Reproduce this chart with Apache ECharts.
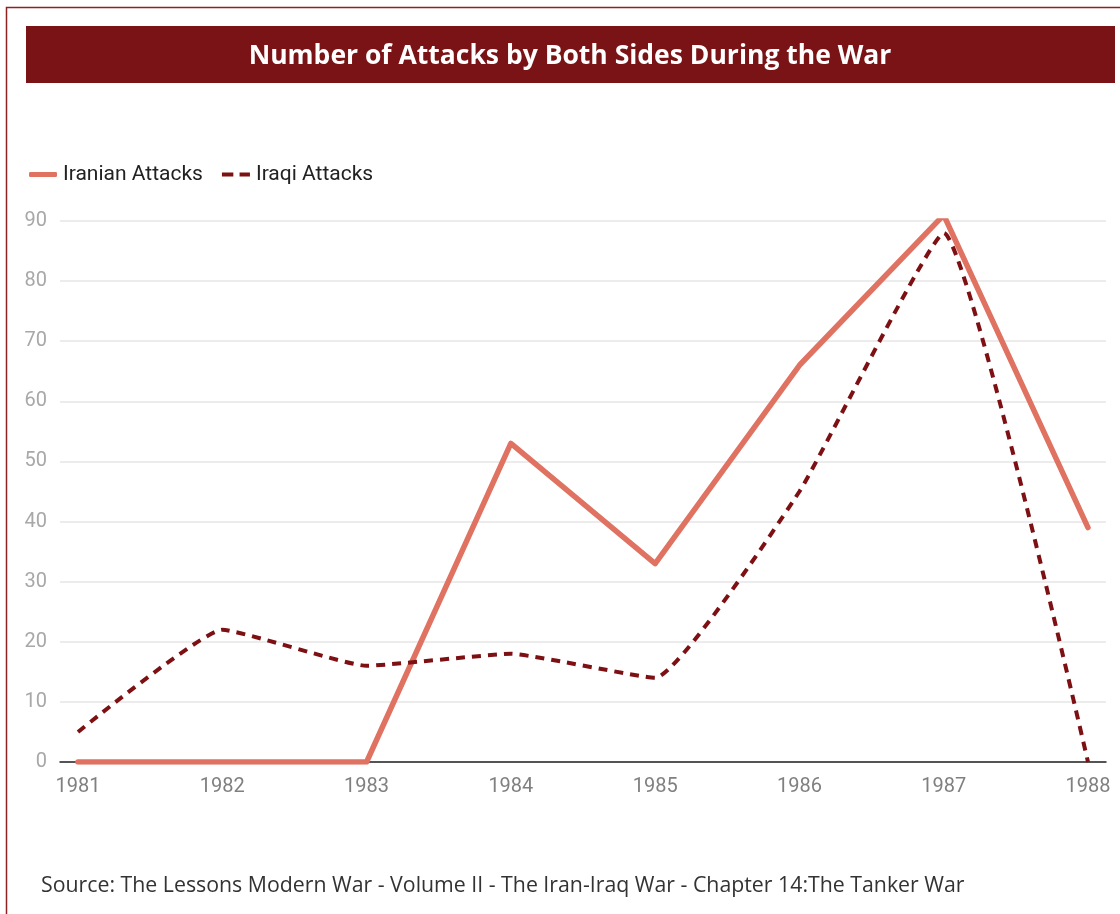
<!DOCTYPE html>
<html><head><meta charset="utf-8">
<script src="https://cdn.jsdelivr.net/npm/echarts@6/dist/echarts.min.js"></script>
<style>html,body{margin:0;padding:0;background:#fff}#c{width:1120px;height:914px}</style>
</head><body><div id="c"></div>
<script>
var years = ['1981','1982','1983','1984','1985','1986','1987','1988'];
var iranianAttacks = [0, 0, 0, 53, 33, 66, 91, 39];
var iraqiAttacks = [5, 22, 16, 18, 14, 45, 88, 0];
var yTicks = [0, 10, 20, 30, 40, 50, 60, 70, 80, 90];
var titleText = 'Number of Attacks by Both Sides During the War';
var sourceText = 'Source: The Lessons Modern War - Volume II - The Iran-Iraq War - Chapter 14:The Tanker War';

var chart = echarts.init(document.getElementById('c'));
var yMax = yTicks[yTicks.length - 1];
chart.setOption({
  animation: false,
  backgroundColor: '#fff',
  textStyle: { fontFamily: 'Roboto' },
  legend: {
    left: 24, top: 159, itemWidth: 28, itemHeight: 5, itemGap: 19,
    textStyle: { fontSize: 21, color: '#222', fontFamily: 'Roboto', padding: [0, 0, 0, 1] },
    data: [
      { name: 'Iranian Attacks', icon: 'roundRect', itemStyle: { color: '#e07262' } },
      { name: 'Iraqi Attacks', icon: 'path://M0,0h11v4h-11z M17,0h10v4h-10z', itemStyle: { color: '#7d1013' } }
    ]
  },
  grid: [
    { left: 78, right: 32, top: 221, bottom: 152 },
    { left: 60, right: 14, top: 221, bottom: 152 }
  ],
  xAxis: [
    { type: 'category', gridIndex: 0, data: years, boundaryGap: false,
      axisLine: { show: false }, axisTick: { show: false }, splitLine: { show: false },
      axisLabel: { fontSize: 20, color: '#808080', margin: 15, fontFamily: 'Roboto' } },
    { type: 'value', gridIndex: 1, min: 0, max: 1,
      axisLine: { show: true, onZero: false, lineStyle: { color: '#222', width: 1.5 } },
      axisTick: { show: false }, axisLabel: { show: false }, splitLine: { show: false } }
  ],
  yAxis: [
    { type: 'value', gridIndex: 0, min: 0, max: yMax, interval: 10,
      axisLine: { show: false }, axisTick: { show: false }, axisLabel: { show: false },
      splitLine: { show: false } },
    { type: 'value', gridIndex: 1, min: 0, max: yMax, interval: 10,
      axisLine: { show: false }, axisTick: { show: false },
      axisLabel: { fontSize: 20, color: '#a8a8a8', margin: 13, fontFamily: 'Roboto' },
      splitLine: { show: true, lineStyle: { color: '#e6e6e6', width: 1.5 } } }
  ],
  series: [
    { name: 'Iranian Attacks', type: 'line', xAxisIndex: 0, yAxisIndex: 0,
      data: iranianAttacks, symbol: 'none', z: 3,
      lineStyle: { color: '#e07262', width: 5.5, cap: 'round', join: 'round' },
      itemStyle: { color: '#e07262' } },
    { name: 'Iraqi Attacks', type: 'line', xAxisIndex: 0, yAxisIndex: 0,
      data: iraqiAttacks, symbol: 'none', smooth: 0.12, z: 4,
      lineStyle: { color: '#7d1013', width: 4, type: [9, 7] },
      itemStyle: { color: '#7d1013' } }
  ],
  graphic: [
    { type: 'rect', z: 0, silent: true,
      shape: { x: 6.5, y: 7.5, width: 1300, height: 1300 },
      style: { fill: 'none', stroke: '#8e2222', lineWidth: 1.5 } },
    { type: 'rect', z: 1, silent: true,
      shape: { x: 26, y: 26, width: 1089, height: 57 },
      style: { fill: '#7a1315' } },
    { type: 'text', z: 2, silent: true, x: 570, y: 56,
      style: { text: titleText, fill: '#fff', font: 'bold 26.5px "Open Sans"', align: 'center', verticalAlign: 'middle' } },
    { type: 'text', z: 2, silent: true, x: 41, y: 886,
      style: { text: sourceText, fill: '#333', font: '21.3px "Open Sans"', verticalAlign: 'middle' } }
  ]
});
</script></body></html>
